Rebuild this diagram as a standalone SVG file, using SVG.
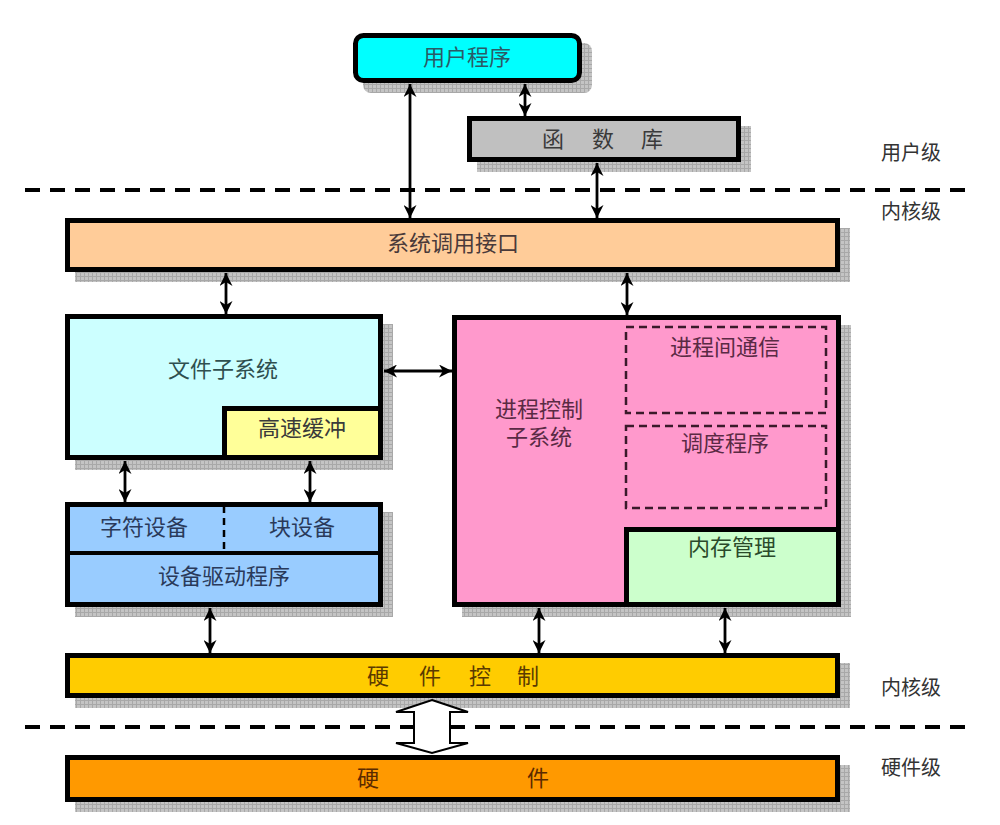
<svg xmlns="http://www.w3.org/2000/svg" width="1000" height="825" viewBox="0 0 1000 825">
<style>
text{font-family:"Liberation Sans","Noto Sans CJK SC",sans-serif;font-size:22px;fill:#3a3a3a;text-anchor:middle}
.box{stroke:#000;stroke-width:5}
.sh{fill:url(#hatch)}
.dash{fill:none;stroke:#3a1a2a;stroke-width:2.5;stroke-dasharray:8 5}
.sep{stroke:#000;stroke-width:4;stroke-dasharray:15 10}
.conn{stroke:#000;stroke-width:2.8;marker-start:url(#ah);marker-end:url(#ah)}
.lvl{font-size:20px;fill:#333}
</style>
<defs>
<pattern id="hatch" width="4" height="4" patternUnits="userSpaceOnUse">
<rect width="4" height="4" fill="#c4c4c4"/>
<path d="M0,0.5H4M0.5,0V4" stroke="#a8a8a8" stroke-width="1"/>
</pattern>
<marker id="ah" viewBox="0 0 10 10" refX="10" refY="5" markerWidth="13" markerHeight="13" markerUnits="userSpaceOnUse" orient="auto-start-reverse">
<path d="M0,0L10,5L0,10L3,5z" fill="#000"/>
</marker>
</defs>

<!-- separators -->
<line class="sep" x1="25" y1="190" x2="970" y2="190"/>
<line class="sep" x1="25" y1="727" x2="970" y2="727"/>

<g id="user-program">
<rect class="sh" x="363" y="43" width="229" height="50" rx="8"/>
<rect class="box" x="355.5" y="35.5" width="224" height="45" rx="8" fill="#00ffff" stroke-width="4"/>
<text x="467" y="65" style="fill:#2a5a66">用户程序</text>
</g>

<g id="lib">
<rect class="sh" x="477" y="126" width="274" height="46"/>
<rect class="box" x="469.5" y="118.5" width="269" height="41" fill="#c0c0c0"/>
<text x="553" y="147">函</text>
<text x="603" y="147">数</text>
<text x="652" y="147">库</text>
</g>

<g id="syscall">
<rect class="sh" x="75" y="228" width="775" height="54"/>
<rect class="box" x="67.5" y="220.5" width="770" height="49" fill="#ffcc99"/>
<text x="453" y="251" style="fill:#4a3a3a">系统调用接口</text>
</g>

<g id="fs">
<rect class="sh" x="75" y="324" width="318" height="146"/>
<rect class="box" x="67.5" y="316.5" width="313" height="141" fill="#ccffff"/>
<text x="223" y="377" style="fill:#2f4f4f">文件子系统</text>
</g>

<g id="cache">
<rect class="box" x="224.5" y="408.5" width="156" height="49" fill="#ffff99"/>
<text x="302" y="436">高速缓冲</text>
</g>

<g id="devices">
<rect class="sh" x="75" y="512" width="318" height="105"/>
<rect class="box" x="67.5" y="504.5" width="313" height="100" fill="#99ccff"/>
<line x1="67.5" y1="553" x2="380.5" y2="553" stroke="#000" stroke-width="4"/>
<line x1="224" y1="506" x2="224" y2="551" stroke="#000" stroke-width="2.5" stroke-dasharray="7 5"/>
<text x="144" y="535" style="fill:#2a3a5a">字符设备</text>
<text x="302" y="535" style="fill:#2a3a5a">块设备</text>
<text x="224" y="584" style="fill:#2a3a5a">设备驱动程序</text>
</g>

<g id="proc">
<rect class="sh" x="462" y="325" width="389" height="292"/>
<rect class="box" x="454.5" y="317.5" width="384" height="287" fill="#ff99cc"/>
<text x="539" y="417" style="fill:#5a2a44">进程控制</text>
<text x="539" y="445" style="fill:#5a2a44">子系统</text>
</g>

<g id="ipc">
<rect class="dash" x="626" y="327" width="200" height="86"/>
<text x="725" y="355" style="fill:#5a2a44">进程间通信</text>
</g>

<g id="sched">
<rect class="dash" x="626" y="426" width="200" height="82"/>
<text x="725" y="451" style="fill:#5a2a44">调度程序</text>
</g>

<g id="mem">
<rect class="box" x="626.5" y="529.5" width="212" height="75" fill="#ccffcc"/>
<text x="732" y="555" style="fill:#2a4a2a">内存管理</text>
</g>

<g id="hwctl">
<rect class="sh" x="75" y="663" width="775" height="45"/>
<rect class="box" x="67.5" y="655.5" width="770" height="40" fill="#ffcc00"/>
<text x="378" y="684" style="fill:#5a3a00">硬</text>
<text x="430" y="684" style="fill:#5a3a00">件</text>
<text x="480" y="684" style="fill:#5a3a00">控</text>
<text x="528" y="684" style="fill:#5a3a00">制</text>
</g>

<g id="hw">
<rect class="sh" x="75" y="765" width="775" height="47"/>
<rect class="box" x="67.5" y="757.5" width="770" height="42" fill="#ff9900"/>
<text x="368" y="786" style="fill:#5a2a00">硬</text>
<text x="538" y="786" style="fill:#5a2a00">件</text>
</g>

<g id="connectors">
<line class="conn" x1="410" y1="84" x2="410" y2="218"/>
<line class="conn" x1="525" y1="84" x2="525" y2="116"/>
<line class="conn" x1="597" y1="163" x2="597" y2="218"/>
<line class="conn" x1="226" y1="273" x2="226" y2="314"/>
<line class="conn" x1="627" y1="273" x2="627" y2="315"/>
<line class="conn" x1="384" y1="371" x2="452" y2="371"/>
<line class="conn" x1="125" y1="461" x2="125" y2="502"/>
<line class="conn" x1="310" y1="461" x2="310" y2="502"/>
<line class="conn" x1="210" y1="608" x2="210" y2="653"/>
<line class="conn" x1="539" y1="608" x2="539" y2="653"/>
<line class="conn" x1="725" y1="608" x2="725" y2="653"/>
<polygon points="432,700 468,712 450,712 450,743 468,743 432,753 396,743 414,743 414,712 396,712" fill="#fff" stroke="#000" stroke-width="2"/>
</g>

<g id="levels">
<text class="lvl" x="911" y="160">用户级</text>
<text class="lvl" x="911" y="219">内核级</text>
<text class="lvl" x="911" y="695">内核级</text>
<text class="lvl" x="911" y="775">硬件级</text>
</g>
</svg>
